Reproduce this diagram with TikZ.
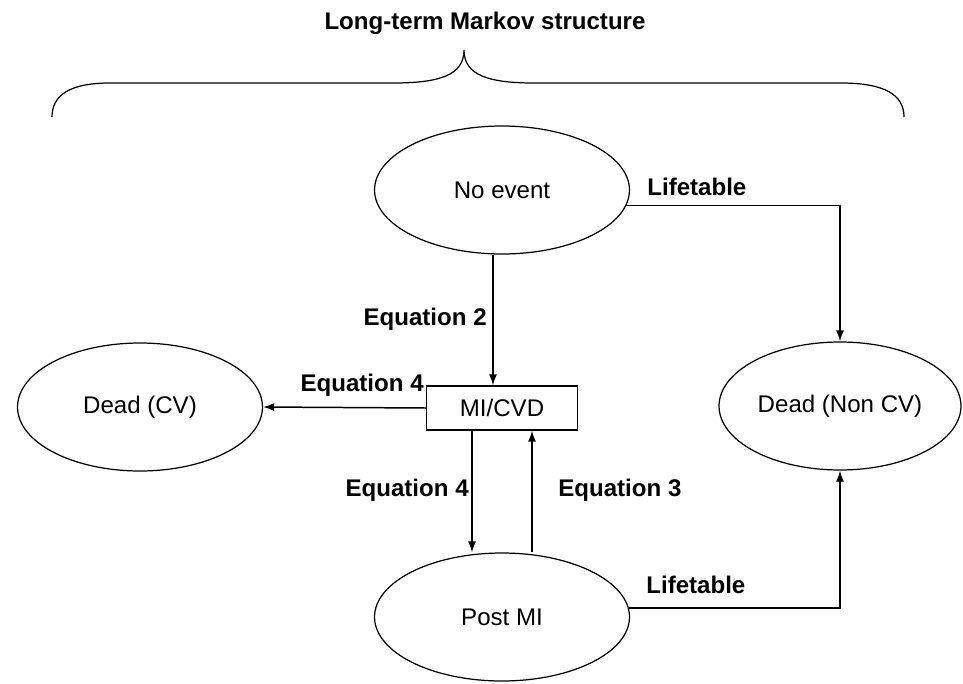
\documentclass[tikz,border=0pt]{standalone}
\usepackage{fontspec}
\setmainfont{Liberation Sans}
\usetikzlibrary{shapes.geometric,arrows.meta}

\begin{document}
\begin{tikzpicture}[x=0.02cm,y=-0.02cm,
    every node/.style={font=\fontsize{13.7}{16}\selectfont},
    state/.style={draw,ellipse,line width=0.7pt,minimum width=5.1cm,minimum height=2.56cm,inner sep=0pt},
    trans/.style={line width=0.85pt,-{Latex[length=0.22cm,width=0.16cm]}},
    lbl/.style={font=\fontsize{13.7}{16}\selectfont\bfseries,inner sep=0pt}]
      \useasboundingbox (0,0) rectangle (963,683);
      \pgfmathsetmacro{\pairshift}{0.6}

      \node[lbl] (title) at (485,23) {Long-term Markov structure};
      \draw[line width=0.7pt] (52,117) .. controls (52,95) and (70,83) .. (110,83) -- (393,83)
          .. controls (440,83) and (464,75) .. (464,50)
          .. controls (464,75) and (488,83) .. (534,83) -- (841,83)
          .. controls (885,83) and (904,95) .. (904,117);

      \node[state] (noevent) at (502,190) {No event};
      \node[state,minimum width=4.9cm] (deadcv) at (140,407) {Dead (CV)};
      \node[state,minimum width=4.84cm] (deadnoncv) at (840,406) {Dead (Non CV)};
      \node[state] (postmi) at (502,617) {Post MI};
      \node[draw,rectangle,line width=0.7pt,minimum width=3.02cm,minimum height=0.88cm] (micvd) at (502,408) {MI/CVD};

      \draw[trans] ([xshift=-0.18cm]noevent.south) -- ([xshift=-0.18cm]micvd.north);
      \draw[trans] (micvd.west) -- (deadcv.east);
      \draw[trans] ([xshift=-\pairshift cm]micvd.south) -- ([xshift=-\pairshift cm]postmi.north);
      \draw[trans] ([xshift=\pairshift cm]postmi.north) -- ([xshift=\pairshift cm]micvd.south);
      \draw[trans] (noevent.-7.5) -| (deadnoncv.north);
      \draw[trans] (postmi.4.5) -| (deadnoncv.south);

      \node[lbl,anchor=east] (eqtwo) at (487,319) {Equation 2};
      \node[lbl,anchor=east] (eqfourleft) at (424,385) {Equation 4};
      \node[lbl,anchor=east] (eqfourdown) at (469,490) {Equation 4};
      \node[lbl,anchor=west] (eqthree) at (558,490) {Equation 3};
      \node[lbl,anchor=west] (lifetop) at (647,187) {Lifetable};
      \node[lbl,anchor=west] (lifebottom) at (646,585) {Lifetable};

    \end{tikzpicture}
\end{document}
